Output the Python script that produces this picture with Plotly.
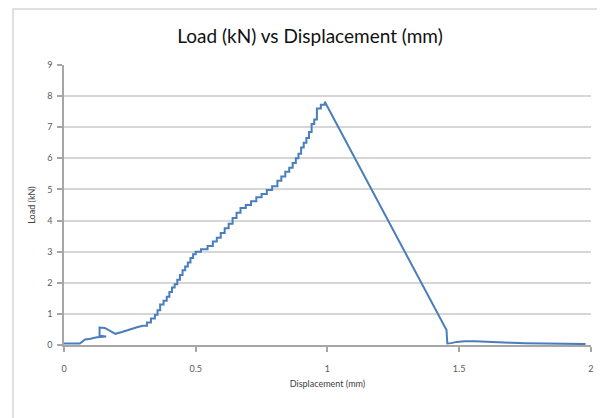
import plotly.graph_objects as go

# ---- data ----
early_x = [0.0, 0.03, 0.06, 0.08, 0.10, 0.125, 0.16, 0.135, 0.135, 0.155, 0.175, 0.195, 0.22, 0.24, 0.26, 0.28, 0.30]
early_y = [0.05, 0.06, 0.05, 0.18, 0.20, 0.25, 0.27, 0.30, 0.56, 0.55, 0.45, 0.36, 0.42, 0.48, 0.53, 0.58, 0.62]

stair_x = [0.30, 0.315, 0.33, 0.345, 0.355, 0.365, 0.378, 0.39, 0.40, 0.41, 0.42, 0.43, 0.44, 0.45,
           0.46, 0.47, 0.48, 0.49, 0.50, 0.52, 0.545, 0.565, 0.58, 0.595, 0.61, 0.625, 0.64, 0.655,
           0.67, 0.69, 0.71, 0.73, 0.75, 0.77, 0.79, 0.81, 0.825, 0.84, 0.855, 0.868, 0.88, 0.89,
           0.90, 0.91, 0.92, 0.93, 0.94, 0.95, 0.96, 0.975, 0.99]
stair_y = [0.62, 0.72, 0.85, 0.97, 1.12, 1.30, 1.42, 1.55, 1.70, 1.85, 1.95, 2.10, 2.25, 2.40,
           2.52, 2.65, 2.80, 2.92, 3.00, 3.08, 3.18, 3.33, 3.45, 3.60, 3.75, 3.90, 4.08, 4.25,
           4.40, 4.50, 4.62, 4.75, 4.85, 4.98, 5.10, 5.28, 5.42, 5.57, 5.70, 5.85, 6.00, 6.15,
           6.35, 6.50, 6.65, 6.85, 7.10, 7.25, 7.60, 7.72, 7.82]

drop_x = [0.99, 1.452, 1.455, 1.47, 1.49, 1.52, 1.56, 1.60, 1.65, 1.70, 1.75, 1.80, 1.90, 1.98]
drop_y = [7.82, 0.48, 0.05, 0.06, 0.10, 0.12, 0.12, 0.10, 0.08, 0.07, 0.06, 0.05, 0.04, 0.03]

x_ticks = [0, 0.5, 1, 1.5, 2]
x_tick_labels = ["0", "0.5", "1", "1.5", "2"]
y_ticks = [0, 1, 2, 3, 4, 5, 6, 7, 8, 9]

title_text = "Load (kN) vs Displacement (mm)"
x_title = "Displacement (mm)"
y_title = "Load (kN)"

LINE = "#4a7ebb"
# the page body has an 8px default margin, so the figure is offset by 8px
OFF = 8
W, H = 605 - OFF, 418 - OFF
L, R, T, B = 64 - OFF, 14, 65 - OFF, 73

fig = go.Figure()
fig.add_trace(go.Scatter(x=early_x, y=early_y, mode="lines",
                         line=dict(color=LINE, width=2), showlegend=False, hoverinfo="skip"))
fig.add_trace(go.Scatter(x=stair_x, y=stair_y, mode="lines",
                         line=dict(color=LINE, width=2, shape="hv"), showlegend=False, hoverinfo="skip"))
fig.add_trace(go.Scatter(x=drop_x, y=drop_y, mode="lines",
                         line=dict(color=LINE, width=2), showlegend=False, hoverinfo="skip"))

pw = W - L - R
ph = H - T - B
def px_to_paper_x(px):
    return (px - OFF - L) / pw
def px_to_paper_y(py):
    return (H - B - (py - OFF)) / ph

# chart frame (top, left, right edges; cropped at bottom)
fig.add_shape(type="path",
              path=f"M {px_to_paper_x(13)},{px_to_paper_y(440)} L {px_to_paper_x(13)},{px_to_paper_y(9)} "
                   f"L {px_to_paper_x(603)},{px_to_paper_y(9)} L {px_to_paper_x(603)},{px_to_paper_y(440)}",
              xref="paper", yref="paper", line=dict(color="#d6d6d6", width=1.5), layer="below")

fig.update_layout(
    width=W, height=H,
    margin=dict(l=L, r=R, t=T, b=B, autoexpand=False),
    paper_bgcolor="white", plot_bgcolor="white",
    title=dict(text=title_text, x=(310 - OFF) / W, xanchor="center", y=1 - (36 - OFF) / H, yanchor="middle",
               xref="container", yref="container",
               font=dict(family="Lato", size=19, color="#111111")),
    xaxis=dict(range=[0, 2.0005], tickvals=x_ticks, ticktext=x_tick_labels,
               showgrid=False, zeroline=False, showline=True, linecolor="#a6a6a6", linewidth=1.5,
               ticks="outside", ticklen=5, tickcolor="#a6a6a6", tickwidth=1.5,
               ticklabeloverflow="allow", ticklabelstandoff=9,
               tickfont=dict(family="Lato", size=9, color="#595959"),
               title=dict(text=x_title, font=dict(family="Lato", size=9, color="#404040"), standoff=8)),
    yaxis=dict(range=[0, 9.0005], tickvals=y_ticks,
               showgrid=True, gridcolor="#d6d6d6", gridwidth=1.5, zeroline=False,
               showline=True, linecolor="#a6a6a6", linewidth=1.5,
               ticks="outside", ticklen=5, tickcolor="#a6a6a6", tickwidth=1.5,
               ticklabeloverflow="allow", ticklabelstandoff=3,
               tickfont=dict(family="Lato", size=9, color="#595959"),
               title=dict(text=y_title, font=dict(family="Lato", size=9, color="#404040"), standoff=10)),
)

fig.write_html("out.html")
